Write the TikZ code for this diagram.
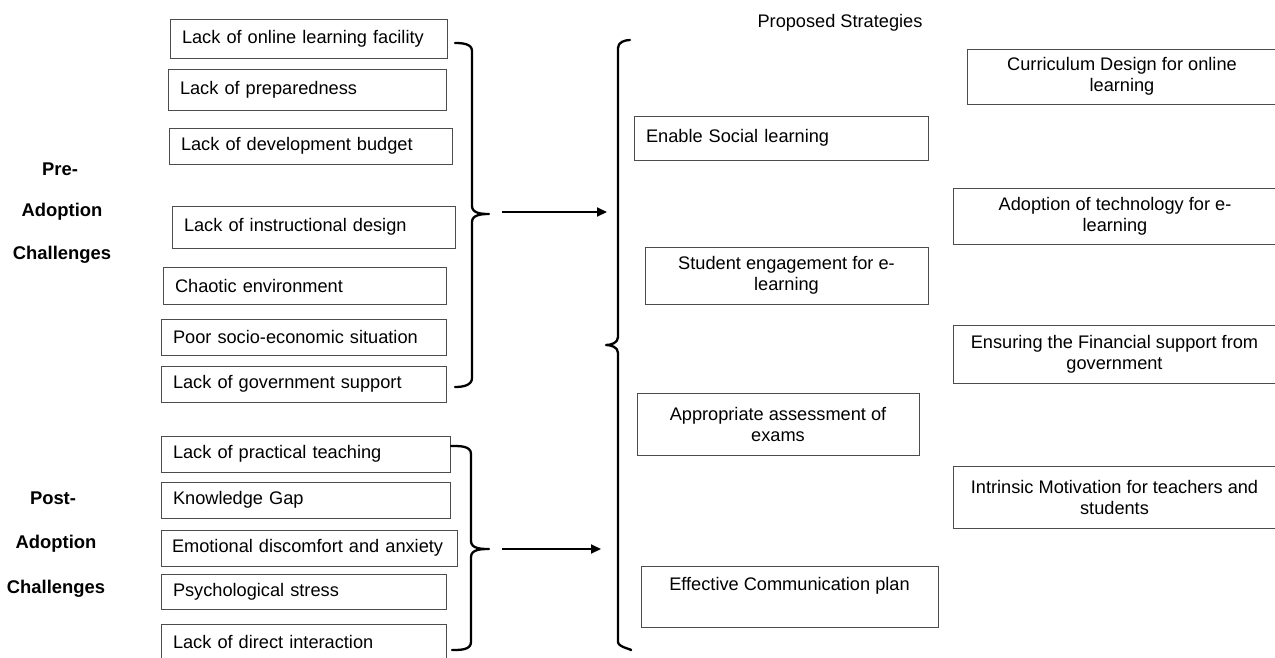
\documentclass[tikz,border=0pt]{standalone}
\usepackage{fontspec}
\setmainfont{Liberation Sans}
\usetikzlibrary{arrows.meta}
\hyphenpenalty=10000
\exhyphenpenalty=10000
\begin{document}
\begin{tikzpicture}[x=1pt,y=-1pt,
  txt/.style={font=\fontsize{18.2}{21}\selectfont, text=black},
  boldlbl/.style={font=\bfseries\fontsize{18.4}{21}\selectfont, anchor=base},
  frame/.style={draw=black!70, line width=0.9pt, fill=white},
  lbox/.style={txt, frame, inner xsep=12pt, inner ysep=0pt, align=left},
  cbox/.style={txt, frame, inner xsep=8pt, inner ysep=0pt, align=center},
  brace/.style={line width=2.3pt, line cap=round, line join=round},
  flow/.style={line width=2pt, -{Triangle[length=10pt,width=9pt]}}]
\useasboundingbox[fill=white] (0,0) rectangle (1275,657);

% group labels
\node[boldlbl] (pre1) at (60,175) {Pre-};
\node[boldlbl] (pre2) at (62,216.5) {Adoption};
\node[boldlbl] (pre3) at (62,259.5) {Challenges};
\node[boldlbl] (post1) at (53,504.5) {Post-};
\node[boldlbl] (post2) at (56,548.5) {Adoption};
\node[boldlbl] (post3) at (56,593) {Challenges};

% pre-adoption challenges
\node[lbox, minimum width=277, minimum height=39, text width=253] (p1) at (308.5,38.5) {Lack of online learning facility};
\node[lbox, minimum width=278, minimum height=41, text width=254] (p2) at (307,89.5) {Lack of preparedness};
\node[lbox, minimum width=283, minimum height=36, text width=259] (p3) at (310.5,146) {Lack of development budget};
\node[lbox, minimum width=283, minimum height=42, text width=259] (p4) at (313.5,227) {Lack of instructional design};
\node[lbox, minimum width=283, minimum height=37, text width=259] (p5) at (304.5,285.5) {Chaotic environment};
\node[lbox, minimum width=285, minimum height=36, text width=261] (p6) at (303.5,337) {Poor socio-economic situation};
\node[lbox, minimum width=285, minimum height=36, text width=261] (p7) at (303.5,384) {Lack of government support};

% post-adoption challenges
\node[lbox, minimum width=289, minimum height=36, text width=265] (q1) at (305.5,454) {Lack of practical teaching};
\node[lbox, minimum width=289, minimum height=36, text width=265] (q2) at (305.5,500) {Knowledge Gap};
\node[lbox, inner xsep=11pt, minimum width=296, minimum height=36, text width=274] (q3) at (309,548) {Emotional discomfort and anxiety};
\node[lbox, minimum width=285, minimum height=35, text width=261] (q4) at (303.5,591.5) {Psychological stress};
\node[lbox, minimum width=285, minimum height=36, text width=261] (q5) at (303.5,642) {Lack of direct interaction};

% strategies
\node[txt, anchor=base] (head) at (840,27.5) {Proposed Strategies};
\node[lbox, minimum width=294, minimum height=44, text width=270] (s1) at (781,138) {Enable Social learning};
\node[cbox, minimum width=283, minimum height=57] (s2) at (786.5,275.5) {Student engagement for e-\\learning};
\node[cbox, minimum width=282, minimum height=62] (s3) at (778,424) {Appropriate assessment of\\exams};
\node[cbox, minimum width=297, minimum height=61, text depth=24.6pt] (s4) at (789.5,596.5) {Effective Communication plan};

\node[cbox, minimum width=310, minimum height=55] (r1) at (1122,76.5) {Curriculum Design for online\\learning};
\node[cbox, minimum width=324, minimum height=56] (r2) at (1115,216) {Adoption of technology for e-\\learning};
\node[cbox, minimum width=323, minimum height=58] (r3) at (1114.5,354) {Ensuring the Financial support from\\government};
\node[cbox, minimum width=323, minimum height=62] (r4) at (1114.5,497) {Intrinsic Motivation for teachers and\\students};

% braces
\draw[brace] (455,43) to[out=0,in=90] (472,51) -- (472,206)
  to[out=-90,in=180] (489,214) to[out=180,in=90] (472,222)
  -- (472,378) to[out=-90,in=0] (455,387);
\draw[brace] (451,446) to[out=0,in=90] (471,454) -- (471,541)
  to[out=-90,in=180] (489,549) to[out=180,in=90] (471,557)
  -- (471,642) to[out=-90,in=0] (452,650);
\draw[brace] (630,40) to[out=180,in=90] (618,48) -- (618,337)
  to[out=-90,in=0] (606,345) to[out=0,in=90] (618,353)
  -- (618,642) to[out=-90,in=0] (630,650);

% arrows
\coordinate (a1s) at (502,212);
\coordinate (a1e) at (607,212);
\coordinate (a2s) at (502,549);
\coordinate (a2e) at (601,549);
\draw[flow] (a1s) -- (a1e);
\draw[flow] (a2s) -- (a2e);
\end{tikzpicture}
\end{document}
